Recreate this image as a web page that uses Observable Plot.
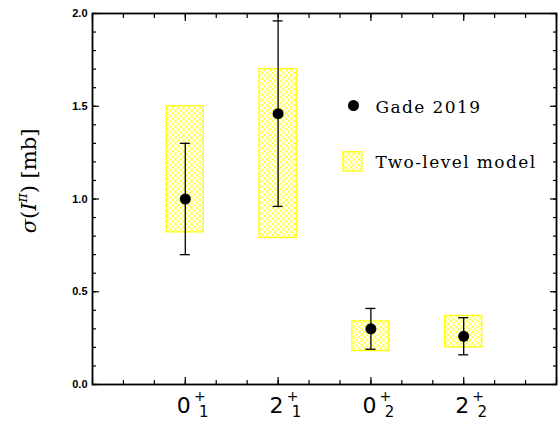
<!DOCTYPE html>
<html><head><meta charset="utf-8">
<script src="https://cdn.jsdelivr.net/npm/d3@7"></script>
<script src="https://cdn.jsdelivr.net/npm/@observablehq/plot@0.6"></script>
<style>body{margin:0;background:#fff}</style>
</head><body><div id="chart"></div>
<script>
// Data
const stateSpin = ["0", "2", "0", "2"];
const stateIndex = ["1", "1", "2", "2"];
const statePos = [1, 2, 3, 4];
const gadeValue = [1.00, 1.46, 0.30, 0.26];
const gadeLow = [0.70, 0.96, 0.19, 0.16];
const gadeHigh = [1.30, 1.96, 0.41, 0.36];
const modelLow = [0.82, 0.79, 0.18, 0.20];
const modelHigh = [1.50, 1.70, 0.34, 0.37];
const legendLabels = ["Gade 2019", "Two-level model"];
const yMajorTicks = [0, 0.5, 1.0, 1.5, 2.0];

const rows = statePos.map((x, i) => ({
  x, spin: stateSpin[i], idx: stateIndex[i],
  v: gadeValue[i], lo: gadeLow[i], hi: gadeHigh[i],
  mlo: modelLow[i], mhi: modelHigh[i]
}));

const yMinorTicks = d3.range(0, 21).map(i => i / 10);
const xMajorTicks = d3.range(0, 6);
const xMinorTicks = d3.range(0, 16).map(i => i / 3);
const YEL = "#ffff00";
const labelFont = "DejaVu Sans";
const legendFont = "DejaVu Serif";

const tickOpts = {fill: "none", label: null, strokeWidth: 1.2};
const legendText = {frameAnchor: "top-left", lineAnchor: "middle", fontSize: 17, fontFamily: legendFont,
  textAnchor: "start", fill: "#000"};
const xLab = {x: "x", frameAnchor: "bottom", lineAnchor: "middle", fontFamily: labelFont, fill: "#000"};

const plot = Plot.plot({
  width: 558, height: 421,
  marginLeft: 92, marginRight: 2, marginTop: 13, marginBottom: 37,
  x: {type: "linear", domain: [0, 5]},
  y: {type: "linear", domain: [0, 2]},
  style: {background: "#fff", color: "#000"},
  marks: [
    // model boxes
    Plot.rect(rows, {x1: "x", x2: "x", y1: "mlo", y2: "mhi", insetLeft: -18.6, insetRight: -18.6,
      fill: "url(#hatch)", stroke: YEL, strokeWidth: 1.2}),
    // error bars
    Plot.ruleX(rows, {x: "x", y1: "lo", y2: "hi", stroke: "#000", strokeWidth: 1.3}),
    Plot.ruleY(rows, {y: "lo", x1: "x", x2: "x", insetLeft: -5, insetRight: -5, stroke: "#000", strokeWidth: 1.3}),
    Plot.ruleY(rows, {y: "hi", x1: "x", x2: "x", insetLeft: -5, insetRight: -5, stroke: "#000", strokeWidth: 1.3}),
    Plot.dot(rows, {x: "x", y: "v", r: 5.5, fill: "#000", stroke: "none"}),
    // ticks (inward)
    Plot.axisX(xMinorTicks, {anchor: "bottom", tickSize: -4, ...tickOpts}),
    Plot.axisX(xMajorTicks, {anchor: "bottom", tickSize: -7, ...tickOpts}),
    Plot.axisX(xMinorTicks, {anchor: "top", tickSize: -4, ...tickOpts}),
    Plot.axisX(xMajorTicks, {anchor: "top", tickSize: -7, ...tickOpts}),
    Plot.axisY(yMinorTicks, {anchor: "left", tickSize: -4, ...tickOpts}),
    Plot.axisY(yMajorTicks, {anchor: "left", tickSize: -7, ...tickOpts}),
    Plot.axisY(yMinorTicks, {anchor: "right", tickSize: -4, ...tickOpts}),
    Plot.axisY(yMajorTicks, {anchor: "right", tickSize: -7, ...tickOpts}),
    // y tick labels
    Plot.axisY(yMajorTicks, {anchor: "left", tickSize: 0, tickPadding: 5, label: null,
      tickFormat: d3.format(".1f"), fontSize: 11, fontWeight: "bold", fontFamily: "Liberation Sans"}),
    // x tick labels
    Plot.text(rows, {...xLab, text: "spin", dx: -1.5, dy: 21, fontSize: 22}),
    Plot.text(rows, {...xLab, text: () => "+", dx: 14.5, dy: 12.5, fontSize: 14}),
    Plot.text(rows, {...xLab, text: "idx", dx: 18.5, dy: 27.5, fontSize: 15}),
    // legend
    Plot.dot([legendLabels[0]], {frameAnchor: "top-left", dx: 261, dy: 92, r: 5.5, fill: "#000"}),
    Plot.rect([legendLabels[1]], {x1: () => 2.806, x2: () => 2.806, y1: () => 1.148, y2: () => 1.252,
      insetLeft: -9.5, insetRight: -9.5, fill: "url(#hatch)", stroke: YEL, strokeWidth: 1.2}),
    Plot.text([legendLabels[0]], {...legendText, dx: 283, dy: 94, text: d => d}),
    Plot.text([legendLabels[1]], {...legendText, dx: 283, dy: 149, text: d => d}),
    Plot.frame({stroke: "#000", strokeWidth: 1.8})
  ]
});
document.getElementById("chart").appendChild(plot);

const svg = d3.select(plot);
// legend letter spacing
svg.selectAll("text").filter(function() { return legendLabels.includes(this.textContent); })
  .attr("letter-spacing", 1.4);

// hatch pattern
const defs = svg.insert("defs", ":first-child");
const pat = defs.append("pattern").attr("id", "hatch").attr("patternUnits", "userSpaceOnUse")
  .attr("width", 5.4).attr("height", 5.4);
pat.append("path").attr("d", "M0,0L5.4,5.4M5.4,0L0,5.4M-1,1L1,-1M4.4,6.4L6.4,4.4M-1,4.4L1,6.4M4.4,-1L6.4,1")
  .attr("stroke", YEL).attr("stroke-width", 0.8).attr("fill", "none");

// y axis label
const yl = svg.append("text").attr("transform", "translate(36,181) rotate(-90)")
  .attr("text-anchor", "middle").attr("font-family", legendFont).attr("font-size", 21).attr("fill", "#000");
yl.append("tspan").attr("font-style", "italic").text("σ");
yl.append("tspan").text("(");
yl.append("tspan").attr("font-style", "italic").text("I");
yl.append("tspan").attr("font-style", "italic").attr("font-size", 14).attr("dy", -9).text("π");
yl.append("tspan").attr("dy", 9).text(")");
yl.append("tspan").text(" [mb]");
</script>
</body></html>
